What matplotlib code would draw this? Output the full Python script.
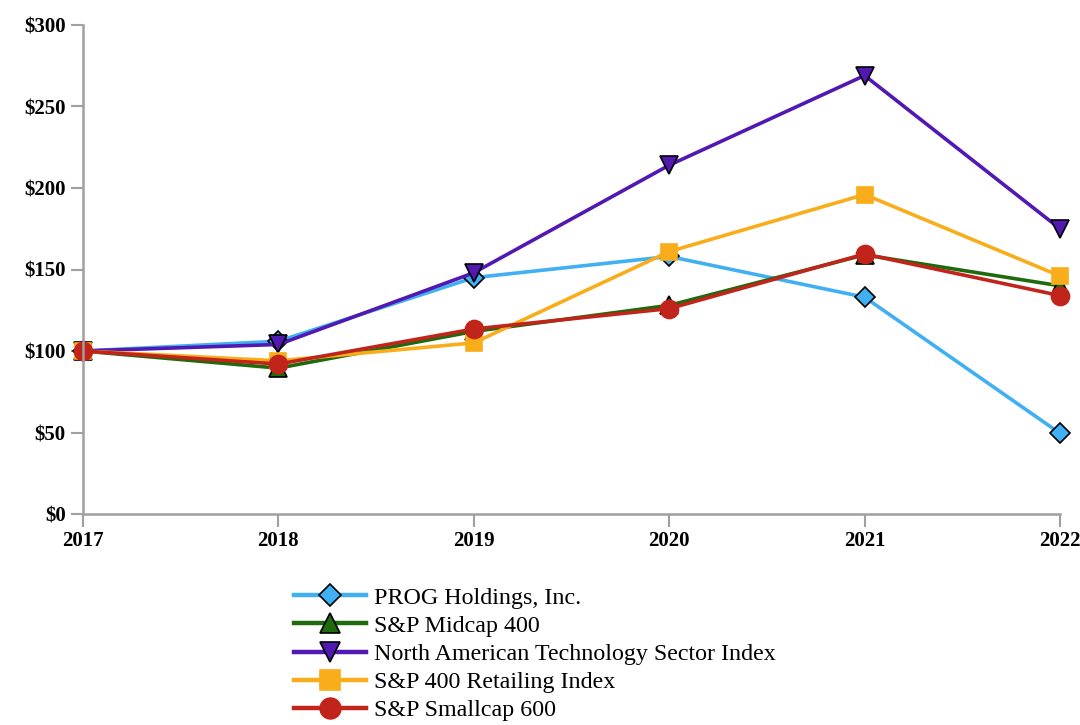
import matplotlib.pyplot as plt
import numpy as np

plt.rcParams['font.family'] = ['Liberation Serif', 'DejaVu Serif']

years = [2017, 2018, 2019, 2020, 2021, 2022]

prog = [100, 106, 145, 158, 133, 49.5]
midcap = [100, 89.5, 112, 128, 159, 140]
natech = [100, 104, 148, 214, 269, 175]
retail = [100, 94, 105, 161, 196, 146]
smallcap = [100, 92, 113.5, 126, 159.5, 134]

series = [
    ('PROG Holdings, Inc.', prog, '#41B0F2', 'D', 'black', 10),
    ('S&P Midcap 400', midcap, '#1E6A0C', '^', 'black', 13),
    ('North American Technology Sector Index', natech, '#5118B2', 'v', 'black', 13),
    ('S&P 400 Retailing Index', retail, '#F9AD1B', 's', '#F9AD1B', 12),
    ('S&P Smallcap 600', smallcap, '#C1241A', 'o', '#C1241A', 13),
]

fig = plt.figure(figsize=(10.8, 7.25), dpi=100)
ax = fig.add_axes([83 / 1080, 1 - 514 / 725, (1060 - 83) / 1080, (514 - 25) / 725])

for name, vals, col, mk, edge, ms in series:
    ax.plot(years, vals, color=col, lw=2.6, marker=mk, markersize=ms,
            markerfacecolor=col, markeredgecolor=edge, markeredgewidth=1.2,
            label=name, clip_on=False)

ax.set_xlim(2017, 2022)
ax.set_ylim(0, 300)
ax.set_xticks(years)
ax.set_yticks(np.arange(0, 301, 50))
ax.set_yticklabels(['$%d' % v for v in range(0, 301, 50)])

for s in ['top', 'right']:
    ax.spines[s].set_visible(False)
for s in ['left', 'bottom']:
    ax.spines[s].set_color('#A0A0A0')
    ax.spines[s].set_linewidth(1.8)
ax.tick_params(axis='both', colors='#A0A0A0', width=1.5, length=9, labelcolor='black',
               labelsize=15)
for lbl in ax.get_xticklabels() + ax.get_yticklabels():
    lbl.set_fontweight('bold')

leg = fig.legend(loc='upper left', bbox_to_anchor=(294 / 1080, 1 - 587 / 725), frameon=False,
                 fontsize=17.3, handlelength=3.0, labelspacing=0.26, handletextpad=0.35,
                 borderaxespad=0, borderpad=0, markerscale=1.15)
for h in leg.legend_handles:
    h.set_linewidth(3.2)

fig.savefig('out.png', dpi=100)
